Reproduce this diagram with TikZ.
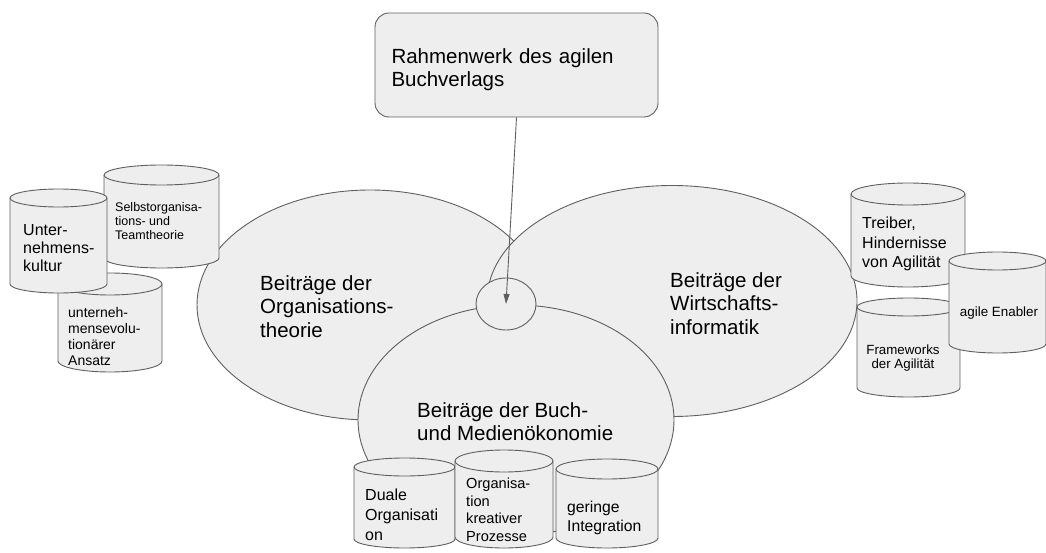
\documentclass[tikz,border=0pt]{standalone}
\usepackage{fontspec}
\setmainfont{Liberation Sans}
\usetikzlibrary{shapes.geometric,arrows.meta}
\definecolor{shapefill}{HTML}{EEEEEE}
\definecolor{edgegray}{HTML}{5F5F5F}
\begin{document}
\begin{tikzpicture}[x=1pt,y=-1pt,
   blob/.style={ellipse,draw=edgegray,fill=shapefill,line width=0.9pt,inner sep=0pt},
   drum/.style={draw=edgegray,fill=shapefill,line width=0.9pt},
   label/.style={anchor=north west,inner sep=0pt,align=left,text=black},
   big/.style={font=\fontsize{20.5}{23.5}\selectfont},
   link/.style={draw=edgegray,line width=0.9pt,-{Triangle[length=10pt,width=6pt]}}]
   \useasboundingbox (0,0) rectangle (1046,553);

   % Rahmen
   \node[draw=edgegray,fill=shapefill,line width=0.9pt,rounded corners=14pt,
      minimum width=283pt,minimum height=104pt,text width=250pt,align=left,big] (frame) at (516.5,65)
      {\rule{0pt}{23.8pt}Rahmenwerk des agilen\\Buchverlags};

   % die drei Bereiche
   \node[blob,minimum width=346pt,minimum height=230pt] (orgth) at (370,305) {};
   \node[blob,minimum width=370pt,minimum height=231pt] (wi) at (672,301) {};
   \node[blob,minimum width=316pt,minimum height=230pt] (medien) at (516,420) {};
   \node[blob,minimum width=60pt,minimum height=52pt] (hub) at (506,304) {};
   \node[label,big] (orgtext) at (260,275) {Beiträge der\\Organisations-\\theorie};
   \node[label,big] (witext) at (670,272) {Beiträge der\\Wirtschafts-\\informatik};
   \node[label,big] (medtext) at (417,402) {Beiträge der Buch-\\und Medienökonomie};

   \draw[link] (frame.south) -- (hub.center);

   % Tonnen
   \foreach \xa/\ya/\xb/\yb/\r in {104/165/219/268/10, 58/273/162/372/11, 10/189/107/293/9,
      851/183/965/287/11, 857/298/960/397/9, 949/252/1046/353/9,
      354/458/455/548/9, 455/450/553/548/11, 556/459/658/548/10}{
      \pgfmathsetmacro\rx{(\xb-\xa)/2}
      \filldraw[drum] (\xa,\ya+\r) -- (\xa,\yb-\r) arc (180:360:\rx pt and \r pt)
         -- (\xb,\ya+\r) arc (0:180:\rx pt and \r pt) -- cycle;
      \draw[drum,fill=none] (\xa,\ya+\r) arc (180:360:\rx pt and \r pt);
   }

   \node[label,font=\fontsize{16}{18}\selectfont] (kultur) at (23,224) {Unter-\\nehmens-\\kultur};
   \node[label,font=\fontsize{12.5}{14}\selectfont] (selbst) at (115,202) {Selbstorganisa-\\tions- und\\Teamtheorie};
   \node[label,font=\fontsize{14}{16}\selectfont] (evol) at (68,307) {unterneh-\\mensevolu-\\tionärer\\Ansatz};
   \node[label,font=\fontsize{16}{19.5}\selectfont] (treiber) at (862,217) {Treiber,\\Hindernisse\\von Agilität};
   \node[label,anchor=north,align=center,font=\fontsize{13.3}{13.5}\selectfont] (frameworks) at (903,345) {Frameworks\\der Agilität};
   \node[label,anchor=north,font=\fontsize{13.4}{15}\selectfont] (enabler) at (999,307) {agile Enabler};
   \node[label,font=\fontsize{16}{20}\selectfont] (duale) at (365,489) {Duale\\Organisati\\on};
   \node[label,font=\fontsize{14.6}{17.5}\selectfont] (kreativ) at (466,478) {Organisa-\\tion\\kreativer\\Prozesse};
   \node[label,font=\fontsize{15.7}{19}\selectfont] (geringe) at (567,501) {geringe\\Integration};

\end{tikzpicture}
\end{document}
